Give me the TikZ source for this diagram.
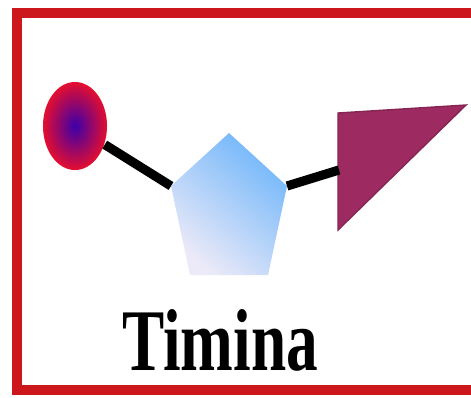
\documentclass[tikz,border=0pt]{standalone}
\usepackage{fontspec}
\setmainfont{Liberation Serif}
\usepackage{tikz}
\usetikzlibrary{shapes.geometric, calc}

\begin{document}
\begin{tikzpicture}[
    x=0.01cm, y=-0.01cm,
    every node/.style={font=\rmfamily, text=black},
    frame/.style={draw=frameRed, line width=2.7pt},
    dot/.style={
      ellipse, minimum width=0.64cm, minimum height=0.88cm, inner sep=0pt,
      inner color=dotBlue, outer color=dotRed
    },
    link/.style={draw=black, line width=2.6pt},
    sugar/.style={shading=axis, top color=sugarBlue, bottom color=sugarPale, shading angle=-40},
    base/.style={fill=baseMaroon, draw=baseMaroon!85!black, line width=0.4pt},
    baseLabel/.style={font=\bfseries\fontsize{25}{30}\selectfont, xscale=0.72, anchor=base}
  ]
    \definecolor{frameRed}{RGB}{204,24,28}
    \definecolor{dotBlue}{RGB}{60,0,170}
    \definecolor{dotRed}{RGB}{228,14,48}
    \definecolor{sugarBlue}{RGB}{112,182,250}
    \definecolor{sugarPale}{RGB}{236,234,248}
    \definecolor{baseMaroon}{RGB}{158,42,98}

    \useasboundingbox (0,0) rectangle (471,397);
    \fill[white] (0,0) rectangle (471,397);
    \draw[frame] (17,13) rectangle (495,390);

    % phosphate
    \node[dot] (phos) at (75,126) {};

    % sugar ring
    \coordinate (pTop) at (229,133);
    \coordinate (pRight) at (287,186);
    \coordinate (pBotR) at (268,275);
    \coordinate (pBotL) at (190,275);
    \coordinate (pLeft) at (171,186);
    \path[sugar] (pTop) -- (pRight) -- (pBotR) -- (pBotL) -- (pLeft) -- cycle;

    % base
    \coordinate (bTop) at (338,113);
    \coordinate (bTip) at (466,105);
    \coordinate (bLow) at (338,230);
    \coordinate (bIn) at (339,170);
    \path[base] (bTop) -- (bTip) -- (bLow) -- cycle;

    \draw[link] (phos) -- (pLeft);
    \draw[link] (pRight) -- (bIn);

    \node[baseLabel] (name) at (220,370) {Timina};
  \end{tikzpicture}
\end{document}
